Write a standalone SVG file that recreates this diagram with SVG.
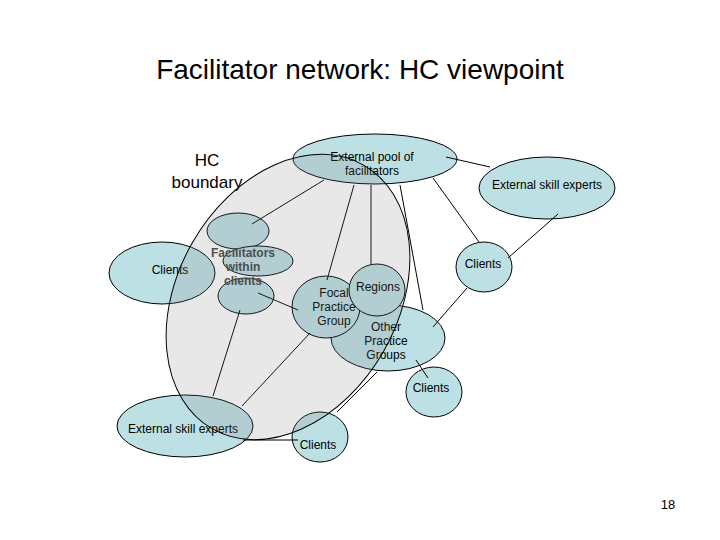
<svg xmlns="http://www.w3.org/2000/svg" width="720" height="540" viewBox="0 0 720 540">
<style>
.n{fill:#bde0e4;stroke:#000;stroke-width:1}
.t{font-family:"Liberation Sans",Arial,sans-serif;font-size:12px;text-anchor:middle;fill:#000}
.c line{stroke:#000;stroke-width:1}
</style>
<rect width="720" height="540" fill="#fff"/>
<text x="360" y="79" class="t" style="font-size:28px">Facilitator network: HC viewpoint</text>
<text x="207" y="166" class="t" style="font-size:17px">HC</text>
<text x="207" y="188" class="t" style="font-size:17px">boundary</text>
<g id="ep"><ellipse class="n" cx="375" cy="159" rx="82" ry="25"/><text class="t" x="372" y="161">External pool of</text><text class="t" x="372" y="175">facilitators</text></g>
<g id="eser"><ellipse class="n" cx="547" cy="188" rx="68" ry="31"/><text class="t" x="547" y="189">External skill experts</text></g>
<g id="clr"><ellipse class="n" cx="484" cy="267" rx="28" ry="25"/><text class="t" x="483" y="268">Clients</text></g>
<g id="opg"><ellipse class="n" cx="388" cy="338" rx="57" ry="33"/><text class="t" x="386" y="331">Other</text><text class="t" x="386" y="345">Practice</text><text class="t" x="386" y="359">Groups</text></g>
<g id="fpg"><ellipse class="n" cx="326" cy="307" rx="34" ry="31"/><text class="t" x="334" y="297">Focal</text><text class="t" x="334" y="311">Practice</text><text class="t" x="334" y="325">Group</text></g>
<g id="reg"><ellipse class="n" cx="377" cy="290" rx="28" ry="26"/><text class="t" x="378" y="291">Regions</text></g>
<g id="clo"><ellipse class="n" cx="434" cy="392" rx="28" ry="25"/><text class="t" x="431" y="392">Clients</text></g>
<g id="clb"><ellipse class="n" cx="320" cy="437" rx="28" ry="25"/><text class="t" x="318" y="449">Clients</text></g>
<g id="esel"><ellipse class="n" cx="185" cy="426" rx="68" ry="31"/><text class="t" x="183" y="433">External skill experts</text></g>
<g id="cll"><ellipse class="n" cx="162" cy="273" rx="53" ry="31"/><text class="t" x="170" y="274">Clients</text></g>
<g id="fwc"><ellipse class="n" cx="238" cy="231" rx="31" ry="18"/><ellipse class="n" cx="258" cy="261" rx="35" ry="15"/><ellipse class="n" cx="246" cy="296" rx="28" ry="18"/><text class="t" x="243" y="257" style="font-weight:bold;fill:#444">Facilitators</text><text class="t" x="243" y="271" style="font-weight:bold;fill:#444">within</text><text class="t" x="243" y="285" style="font-weight:bold;fill:#444">clients</text></g>
<g class="c" id="connectors">
<line x1="324" y1="180" x2="252" y2="224"/>
<line x1="354" y1="185" x2="327" y2="280"/>
<line x1="371" y1="185" x2="371" y2="265"/>
<line x1="400" y1="185" x2="423" y2="310"/>
<line x1="433" y1="178" x2="479" y2="242"/>
<line x1="446" y1="157" x2="490" y2="167"/>
<line x1="558" y1="214" x2="508" y2="258"/>
<line x1="467" y1="288" x2="433" y2="327"/>
<line x1="416" y1="360" x2="428" y2="378"/>
<line x1="377" y1="372" x2="337" y2="412"/>
<line x1="243" y1="440" x2="298" y2="440"/>
<line x1="240" y1="310" x2="213" y2="396"/>
<line x1="310" y1="333" x2="242" y2="406"/>
<line x1="258" y1="293" x2="298" y2="310"/>
</g>
<g id="hc"><ellipse cx="0" cy="0" rx="152" ry="110" transform="translate(288 297) rotate(-60)" fill="#808080" fill-opacity="0.18" stroke="#000"/></g>
<text x="668" y="509" class="t" style="font-size:13px">18</text>
</svg>
